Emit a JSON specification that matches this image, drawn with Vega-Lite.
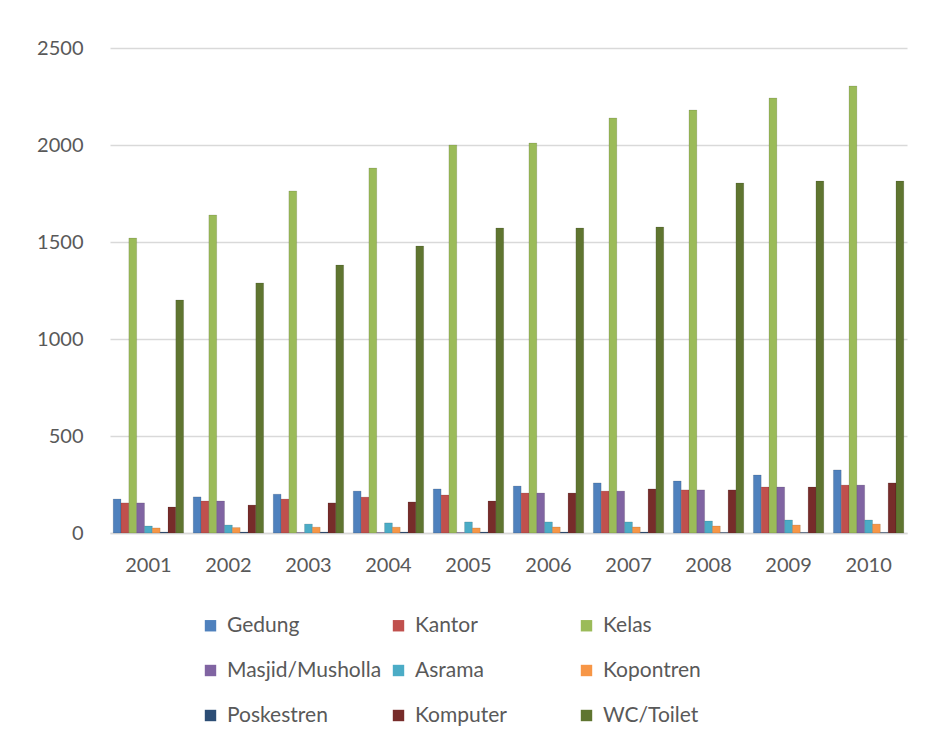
{
  "$schema": "https://vega.github.io/schema/vega-lite/v6.json",
  "width": 797,
  "height": 485,
  "autosize": "none",
  "padding": {"left": 110, "top": 48, "right": 31, "bottom": 209},
  "background": "white",
  "config": {
    "view": {"stroke": null},
    "font": "Lato",
    "axis": {"labelFont": "Lato", "labelColor": "#595959", "labelFontSize": 20}
  },
  "datasets": {
    "wide": [
      {"year": "2001", "Gedung": 175, "Kantor": 155, "Kelas": 1520, "Masjid/Musholla": 155, "Asrama": 36, "Kopontren": 26, "Poskestren": 5, "Komputer": 134, "WC/Toilet": 1201},
      {"year": "2002", "Gedung": 186, "Kantor": 165, "Kelas": 1639, "Masjid/Musholla": 165, "Asrama": 41, "Kopontren": 28, "Poskestren": 5, "Komputer": 144, "WC/Toilet": 1289},
      {"year": "2003", "Gedung": 200, "Kantor": 175, "Kelas": 1763, "Masjid/Musholla": 3, "Asrama": 46, "Kopontren": 30, "Poskestren": 5, "Komputer": 155, "WC/Toilet": 1381},
      {"year": "2004", "Gedung": 216, "Kantor": 185, "Kelas": 1881, "Masjid/Musholla": 3, "Asrama": 52, "Kopontren": 30, "Poskestren": 5, "Komputer": 160, "WC/Toilet": 1479},
      {"year": "2005", "Gedung": 227, "Kantor": 196, "Kelas": 2000, "Masjid/Musholla": 3, "Asrama": 57, "Kopontren": 26, "Poskestren": 5, "Komputer": 165, "WC/Toilet": 1572},
      {"year": "2006", "Gedung": 242, "Kantor": 206, "Kelas": 2010, "Masjid/Musholla": 206, "Asrama": 57, "Kopontren": 31, "Poskestren": 5, "Komputer": 206, "WC/Toilet": 1572},
      {"year": "2007", "Gedung": 258, "Kantor": 216, "Kelas": 2139, "Masjid/Musholla": 216, "Asrama": 57, "Kopontren": 31, "Poskestren": 5, "Komputer": 227, "WC/Toilet": 1577},
      {"year": "2008", "Gedung": 268, "Kantor": 222, "Kelas": 2180, "Masjid/Musholla": 222, "Asrama": 62, "Kopontren": 36, "Poskestren": 3, "Komputer": 222, "WC/Toilet": 1804},
      {"year": "2009", "Gedung": 299, "Kantor": 237, "Kelas": 2242, "Masjid/Musholla": 237, "Asrama": 67, "Kopontren": 41, "Poskestren": 3, "Komputer": 237, "WC/Toilet": 1814},
      {"year": "2010", "Gedung": 325, "Kantor": 247, "Kelas": 2304, "Masjid/Musholla": 247, "Asrama": 67, "Kopontren": 46, "Poskestren": 3, "Komputer": 258, "WC/Toilet": 1814}
    ]
  },
  "data": {"name": "wide"},
  "transform": [
    {"fold": ["Gedung", "Kantor", "Kelas", "Masjid/Musholla", "Asrama", "Kopontren", "Poskestren", "Komputer", "WC/Toilet"], "as": ["category", "value"]}
  ],
  "mark": {"type": "bar", "strokeWidth": 0.6, "stroke": "#00000033"},
  "encoding": {
    "x": {
      "field": "year", "type": "nominal", "title": null,
      "scale": {"paddingInner": 0.12, "paddingOuter": 0.04},
      "axis": {"labelAngle": 0, "ticks": false, "domainColor": "#D9D9D9", "domainWidth": 1.5, "labelPadding": 22}
    },
    "xOffset": {"field": "category", "type": "nominal", "sort": ["Gedung", "Kantor", "Kelas", "Masjid/Musholla", "Asrama", "Kopontren", "Poskestren", "Komputer", "WC/Toilet"]},
    "y": {
      "field": "value", "type": "quantitative", "title": null,
      "scale": {"domain": [0, 2500], "nice": false},
      "axis": {"values": [0, 500, 1000, 1500, 2000, 2500], "format": "d", "domain": false, "ticks": false, "gridColor": "#D9D9D9", "gridWidth": 1.5, "labelPadding": 27}
    },
    "color": {
      "field": "category", "type": "nominal", "title": null,
      "sort": ["Gedung", "Kantor", "Kelas", "Masjid/Musholla", "Asrama", "Kopontren", "Poskestren", "Komputer", "WC/Toilet"],
      "scale": {
        "domain": ["Gedung", "Kantor", "Kelas", "Masjid/Musholla", "Asrama", "Kopontren", "Poskestren", "Komputer", "WC/Toilet"],
        "range": ["#4F81BD", "#C0504D", "#9BBB59", "#8064A2", "#4BACC6", "#F79646", "#2C4D75", "#772C2A", "#5F7530"]
      },
      "legend": {
        "orient": "none", "legendX": 90, "legendY": 567,
        "direction": "horizontal", "columns": 3, "gridAlign": "all",
        "symbolType": "square", "symbolSize": 130, "symbolStrokeWidth": 0,
        "labelFont": "Lato", "labelFontSize": 21, "labelColor": "#595959", "labelOffset": 6,
        "rowPadding": 23, "columnPadding": 6, "labelLimit": 300
      }
    }
  }
}
